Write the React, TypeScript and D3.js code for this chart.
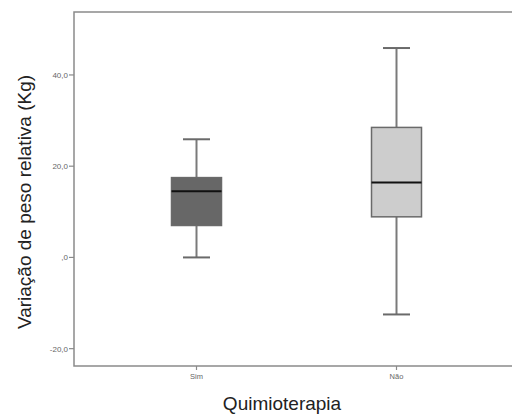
import React from "react";
import * as d3 from "d3";

const categories = ["Sim", "Não"];
const whiskerLow = [0, -12.5];
const q1 = [7.0, 8.9];
const median = [14.5, 16.4];
const q3 = [17.5, 28.5];
const whiskerHigh = [25.9, 45.9];
const fills = ["#676767", "#cdcdcd"];
const yTicks = [-20, 0, 20, 40];

const W = 512;
const H = 414;
const left = 74;
const right = 519;
const top = 12;
const bottom = 366;

const fmt = (v: number) => (v === 0 ? ",0" : v.toFixed(1).replace(".", ","));

export default function App() {
  const x = d3.scalePoint<string>().domain(categories).range([left, right]).padding(0.6125);
  const y = d3.scaleLinear().domain([-23.8, 53.8]).range([bottom, top]);
  const boxW = 50;
  const capW = 27;
  const font = "'Liberation Sans', Arial, sans-serif";

  return (
    <svg
      width={W}
      height={H}
      style={{ position: "absolute", left: 0, top: 0, display: "block", background: "#fff" }}
    >
      {/* plot frame */}
      <rect x={left} y={top} width={right - left} height={bottom - top} fill="none" stroke="#8a8a8a" strokeWidth={1.5} />

      {/* y axis ticks */}
      {yTicks.map((t) => (
        <g key={t}>
          <line x1={left - 5} x2={left} y1={y(t)} y2={y(t)} stroke="#8a8a8a" strokeWidth={1.2} />
          <text x={left - 6} y={y(t) + 3} textAnchor="end" fontSize={8} fill="#666" fontFamily={font}>
            {fmt(t)}
          </text>
        </g>
      ))}

      {/* x axis ticks */}
      {categories.map((c) => (
        <g key={c}>
          <line x1={x(c)!} x2={x(c)!} y1={bottom} y2={bottom + 4} stroke="#8a8a8a" strokeWidth={1.2} />
          <text x={x(c)!} y={bottom + 13} textAnchor="middle" fontSize={7.5} fill="#666" fontFamily={font}>
            {c}
          </text>
        </g>
      ))}

      {/* boxes */}
      {categories.map((c, i) => {
        const cx = x(c)!;
        return (
          <g key={c}>
            <line x1={cx} x2={cx} y1={y(whiskerHigh[i])} y2={y(q3[i])} stroke="#7a7a7a" strokeWidth={2} />
            <line x1={cx} x2={cx} y1={y(q1[i])} y2={y(whiskerLow[i])} stroke="#7a7a7a" strokeWidth={2} />
            <line x1={cx - capW / 2} x2={cx + capW / 2} y1={y(whiskerHigh[i])} y2={y(whiskerHigh[i])} stroke="#6a6a6a" strokeWidth={2} />
            <line x1={cx - capW / 2} x2={cx + capW / 2} y1={y(whiskerLow[i])} y2={y(whiskerLow[i])} stroke="#6a6a6a" strokeWidth={2} />
            <rect
              x={cx - boxW / 2}
              y={y(q3[i])}
              width={boxW}
              height={y(q1[i]) - y(q3[i])}
              fill={fills[i]}
              stroke="#6a6a6a"
              strokeWidth={1.5}
            />
            <line x1={cx - boxW / 2} x2={cx + boxW / 2} y1={y(median[i])} y2={y(median[i])} stroke="#111" strokeWidth={2} />
          </g>
        );
      })}

      {/* axis titles */}
      <text
        transform={`translate(31, ${(top + bottom) / 2 + 13}) rotate(-90)`}
        textAnchor="middle"
        fontSize={19}
        fill="#222"
        fontFamily={font}
      >
        Variação de peso relativa (Kg)
      </text>
      <text x={282} y={410} textAnchor="middle" fontSize={19} fill="#222" fontFamily={font}>
        Quimioterapia
      </text>
    </svg>
  );
}
